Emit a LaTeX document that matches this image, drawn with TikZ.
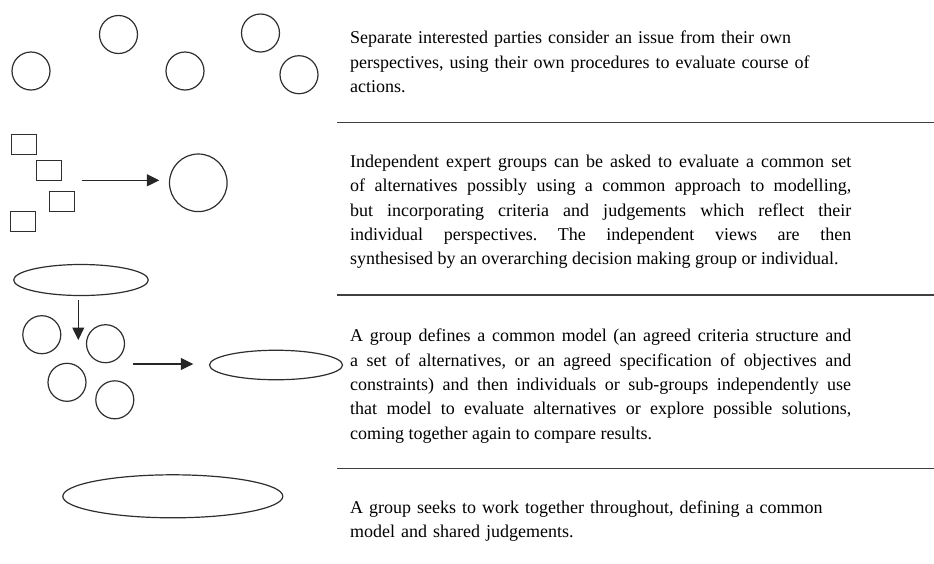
\documentclass[tikz,border=0pt]{standalone}
\usepackage{fontspec}
\setmainfont{Liberation Serif}
\usetikzlibrary{arrows.meta,shapes.geometric}
\hyphenpenalty=10000
\exhyphenpenalty=10000
\begin{document}
\begin{tikzpicture}[x=1pt,y=-1pt,
  shp/.style={draw=black!82, line width=1.2pt},
  circ/.style={shp, circle, minimum size=38pt, inner sep=0pt},
  bigcirc/.style={shp, circle, minimum size=57.6pt, inner sep=0pt},
  boxy/.style={shp, rectangle, minimum width=25pt, minimum height=20pt, inner sep=0pt},
  ell/.style={shp, ellipse, inner sep=0pt},
  arr/.style={draw=black!85, line width=1.2pt, -{Triangle[length=12.5pt,width=12pt]}},
  rulel/.style={draw=black!75, line width=1.2pt},
  txt/.style={anchor=north west, inner sep=0pt, text width=501pt,
    font=\fontsize{18}{24.3}\selectfont\frenchspacing, text=black}]
\useasboundingbox (0,0) rectangle (934,563);
% row 1: separate circles
\node[circ] (c1) at (31,71) {};
\node[circ] (c2) at (118.5,34.5) {};
\node[circ] (c3) at (185,71) {};
\node[circ] (c4) at (260.5,33) {};
\node[circ] (c5) at (299,74.7) {};
% row 2: boxes to big circle
\node[boxy] (r1) at (23.7,144.8) {};
\node[boxy] (r2) at (49.3,170.5) {};
\node[boxy] (r3) at (61.8,201.3) {};
\node[boxy] (r4) at (23.3,221.5) {};
\node[bigcirc] (bc) at (198.3,182.8) {};
\coordinate (a2s) at (81.7,180.3);
\coordinate (a2e) at (159.3,180.3);
\draw[arr] (a2s) -- (a2e);
% row 3
\node[ell, minimum width=134.6pt, minimum height=31pt] (e1) at (81,280) {};
\coordinate (d1) at (78.3,300);
\coordinate (d2) at (78.3,340);
\draw[arr] (d1) -- (d2);
\node[circ] (ca) at (41.8,334.7) {};
\node[circ] (cb) at (105.5,343.7) {};
\node[circ] (cc) at (67,382.3) {};
\node[circ] (cd) at (114.8,399.8) {};
\coordinate (a3s) at (133.3,364);
\coordinate (a3e) at (193.3,364);
\draw[arr] (a3s) -- (a3e);
\node[ell, minimum width=133pt, minimum height=29.5pt] (e2) at (276,365) {};
% row 4
\node[ell, minimum width=220pt, minimum height=43pt] (e3) at (172.8,496.3) {};
% rules
\coordinate (l1a) at (337,122.7); \coordinate (l1b) at (934,122.7);
\coordinate (l2a) at (337,295);   \coordinate (l2b) at (934,295);
\coordinate (l3a) at (337,468.3); \coordinate (l3b) at (934,468.3);
\draw[rulel] (l1a) -- (l1b);
\draw[rulel] (l2a) -- (l2b);
\draw[rulel] (l3a) -- (l3b);
% texts
\node[txt, align=left] (t1) at (350,26.5) {\strut Separate interested parties consider an issue from their own\\ perspectives, using their own procedures to evaluate course of\\ actions.};
\node[txt, align=justify] (t2) at (350,150.3) {\parfillskip=0pt\strut Independent expert groups can be asked to evaluate a common set\linebreak of alternatives possibly using a common approach to modelling,\linebreak but incorporating criteria and judgements which reflect their\linebreak individual perspectives. The independent views are then\linebreak synthesised by an overarching decision making group or individual.};
\node[txt, align=justify] (t3) at (350,324.7) {\strut A group defines a common model (an agreed criteria structure and\linebreak a set of alternatives, or an agreed specification of objectives and\linebreak constraints) and then individuals or sub-groups independently use\linebreak that model to evaluate alternatives or explore possible solutions,\linebreak coming together again to compare results.};
\node[txt, align=left] (t4) at (350,496.3) {\strut A group seeks to work together throughout, defining a common\\ model and shared judgements.};
\end{tikzpicture}
\end{document}
